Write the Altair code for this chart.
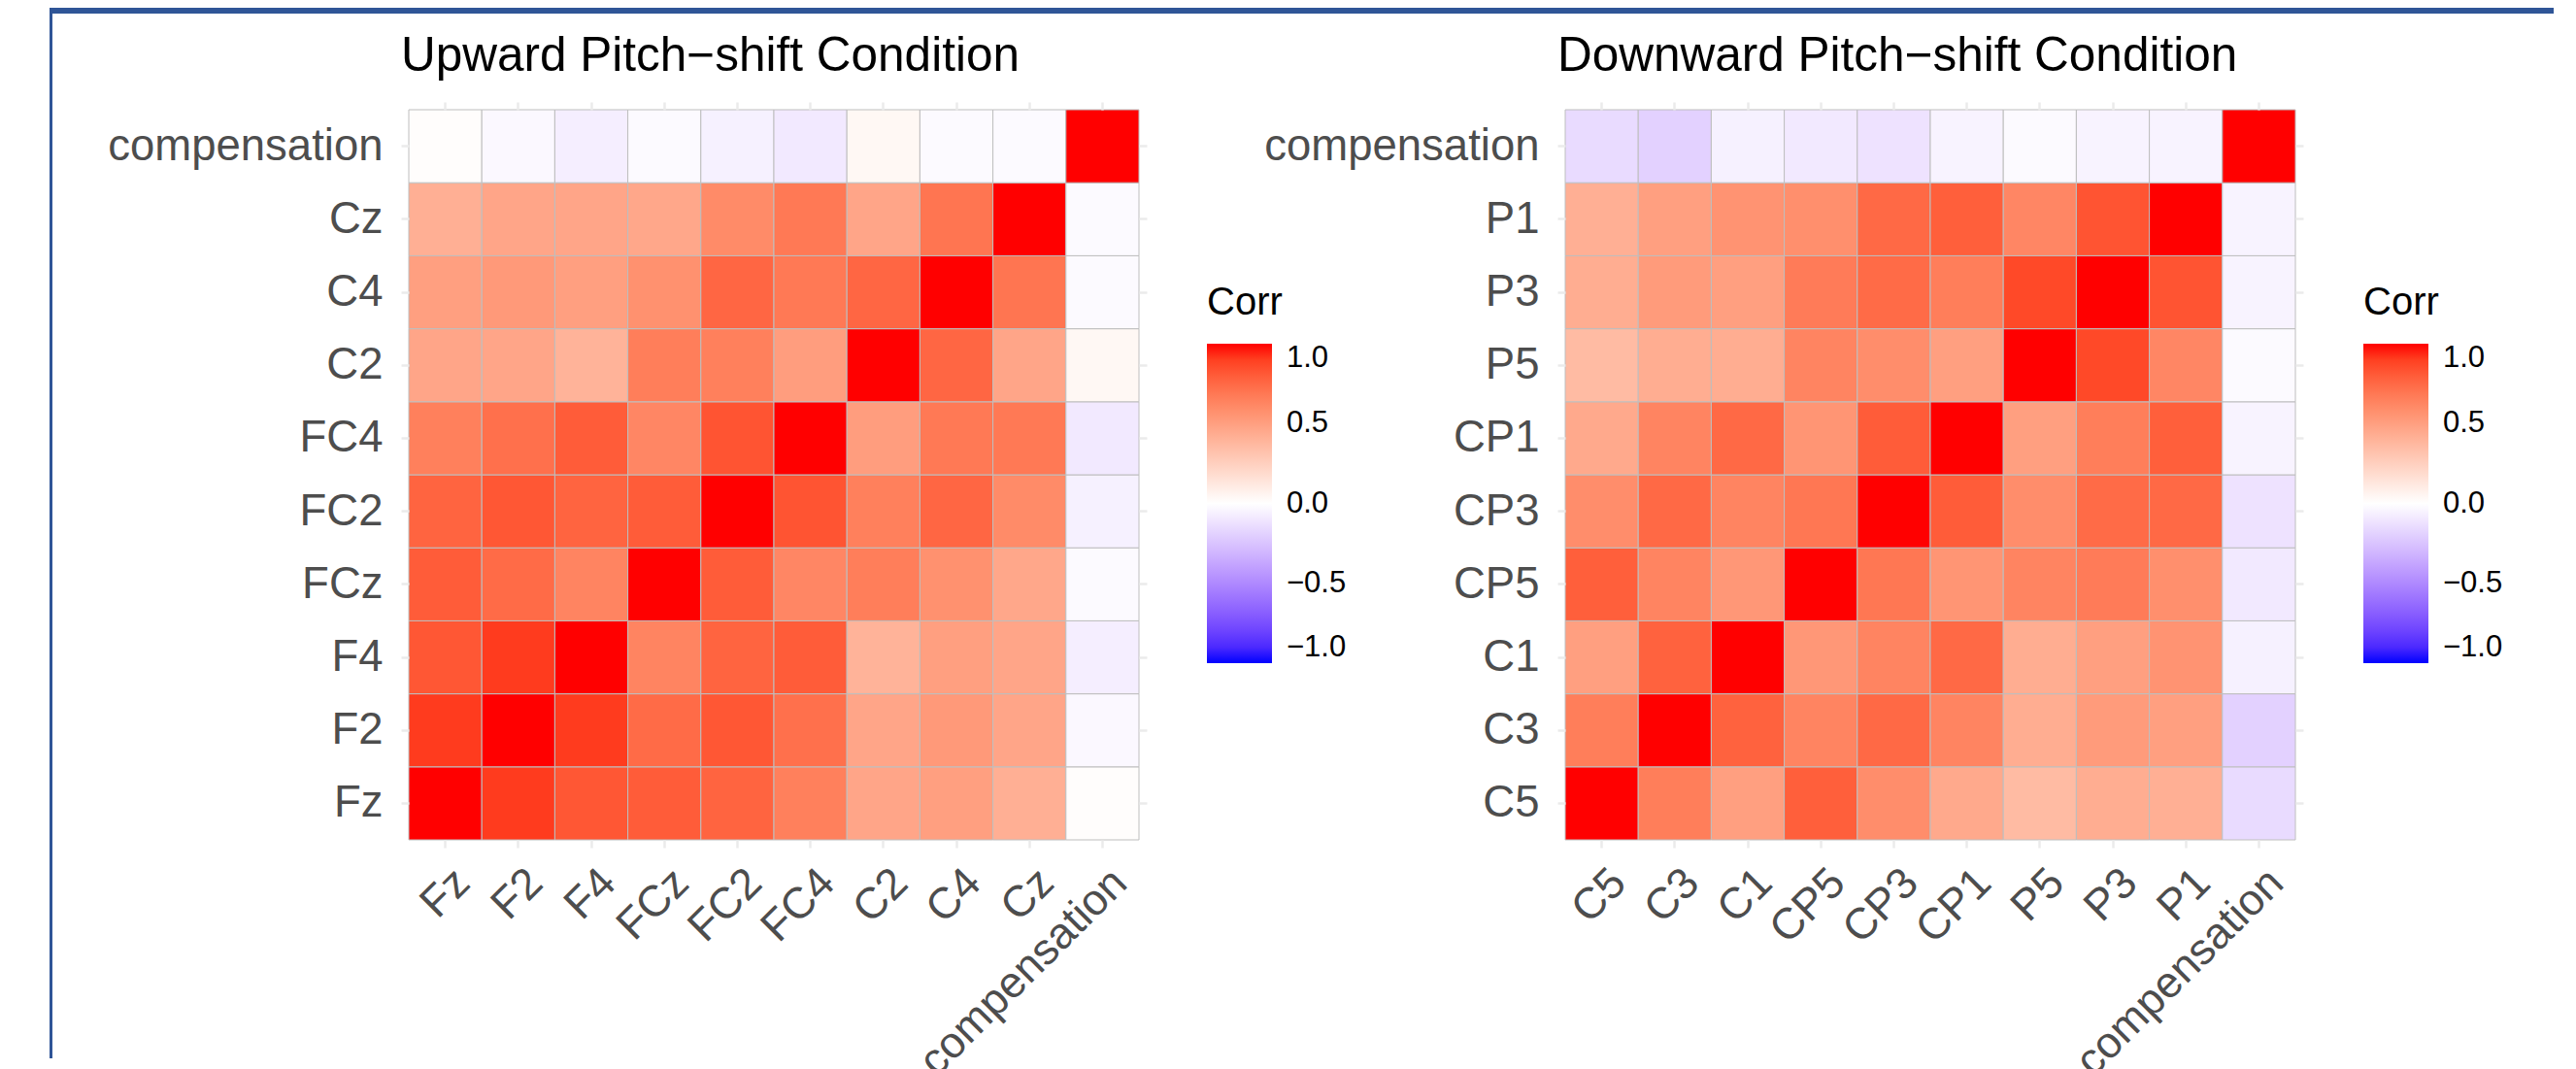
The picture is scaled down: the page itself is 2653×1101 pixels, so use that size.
import altair as alt
import pandas as pd

FONT = "Liberation Sans"

# ---------------- Upward pitch-shift condition ----------------
up_vars = ["Fz", "F2", "F4", "FCz", "FC2", "FC4", "C2", "C4", "Cz", "compensation"]
up_Fz = [1.00, 0.91, 0.82, 0.80, 0.77, 0.65, 0.47, 0.50, 0.42, 0.01]
up_F2 = [0.91, 1.00, 0.91, 0.74, 0.82, 0.72, 0.47, 0.53, 0.47, -0.03]
up_F4 = [0.82, 0.91, 1.00, 0.63, 0.77, 0.80, 0.40, 0.50, 0.47, -0.07]
up_FCz = [0.80, 0.74, 0.63, 1.00, 0.80, 0.62, 0.66, 0.57, 0.46, -0.02]
up_FC2 = [0.77, 0.82, 0.77, 0.80, 1.00, 0.83, 0.65, 0.76, 0.60, -0.06]
up_FC4 = [0.65, 0.72, 0.80, 0.62, 0.83, 1.00, 0.51, 0.68, 0.68, -0.09]
up_C2 = [0.47, 0.47, 0.40, 0.66, 0.65, 0.51, 1.00, 0.76, 0.47, 0.04]
up_C4 = [0.50, 0.53, 0.50, 0.57, 0.76, 0.68, 0.76, 1.00, 0.70, -0.02]
up_Cz = [0.42, 0.47, 0.47, 0.46, 0.60, 0.68, 0.47, 0.70, 1.00, -0.02]
up_comp = [0.01, -0.03, -0.07, -0.02, -0.06, -0.09, 0.04, -0.02, -0.02, 1.00]
up_rows = [up_Fz, up_F2, up_F4, up_FCz, up_FC2, up_FC4, up_C2, up_C4, up_Cz, up_comp]

# ---------------- Downward pitch-shift condition ----------------
down_vars = ["C5", "C3", "C1", "CP5", "CP3", "CP1", "P5", "P3", "P1", "compensation"]
dn_C5 = [1.00, 0.66, 0.50, 0.79, 0.59, 0.45, 0.36, 0.43, 0.42, -0.15]
dn_C3 = [0.66, 1.00, 0.78, 0.63, 0.75, 0.63, 0.43, 0.52, 0.50, -0.19]
dn_C1 = [0.50, 0.78, 1.00, 0.54, 0.63, 0.75, 0.43, 0.50, 0.56, -0.06]
dn_CP5 = [0.79, 0.63, 0.54, 1.00, 0.69, 0.55, 0.63, 0.67, 0.58, -0.09]
dn_CP3 = [0.59, 0.75, 0.63, 0.69, 1.00, 0.80, 0.59, 0.74, 0.75, -0.12]
dn_CP1 = [0.45, 0.63, 0.75, 0.55, 0.80, 1.00, 0.50, 0.66, 0.79, -0.05]
dn_P5 = [0.36, 0.43, 0.43, 0.63, 0.59, 0.50, 1.00, 0.87, 0.62, -0.02]
dn_P3 = [0.43, 0.52, 0.50, 0.67, 0.74, 0.66, 0.87, 1.00, 0.83, -0.05]
dn_P1 = [0.42, 0.50, 0.56, 0.58, 0.75, 0.79, 0.62, 0.83, 1.00, -0.05]
dn_comp = [-0.15, -0.19, -0.06, -0.09, -0.12, -0.05, -0.02, -0.05, -0.05, 1.00]
down_rows = [dn_C5, dn_C3, dn_C1, dn_CP5, dn_CP3, dn_CP1, dn_P5, dn_P3, dn_P1, dn_comp]

legend_values = [-1.0, -0.5, 0.0, 0.5, 1.0]


def long_table(names, rows):
    recs = []
    for i, rname in enumerate(names):
        for j, cname in enumerate(names):
            recs.append({"Var1": cname, "Var2": rname, "value": rows[i][j]})
    return pd.DataFrame(recs)


def panel(names, rows, title, with_frame=False):
    df = long_table(names, rows)
    rev = list(reversed(names))
    band = alt.Scale(paddingInner=0, paddingOuter=0)
    common_axis = dict(domain=False, grid=False, tickColor="#EBEBEB", tickWidth=2.5,
                       tickSize=8, title=None, labelLimit=0)
    base = alt.Chart(df)
    one = pd.DataFrame({"k": [0]})

    stubs = base.mark_rect(opacity=0).encode(
        x=alt.X("Var1:N", sort=names, scale=band,
                axis=alt.Axis(orient="top", labels=False, **common_axis)),
        y=alt.Y("Var2:N", sort=rev, scale=band,
                axis=alt.Axis(orient="right", labels=False, **common_axis)),
    )

    tiles = base.mark_rect(stroke="#BEBEBE", strokeWidth=1).encode(
        x=alt.X("Var1:N", sort=names, scale=band,
                axis=alt.Axis(orient="bottom", labelAngle=-45, labelAlign="right",
                              labelBaseline="top", labelFont=FONT, labelFontSize=45,
                              labelColor="#4D4D4D", labelPadding=13, labelOffset=2,
                              **common_axis)),
        y=alt.Y("Var2:N", sort=rev, scale=band,
                axis=alt.Axis(orient="left", labelFont=FONT, labelFontSize=45.5,
                              labelColor="#4D4D4D", labelPadding=19, **common_axis)),
        color=alt.Color("value:Q",
                        scale=alt.Scale(domain=[-1, 0, 1],
                                        range=["#0000FF", "#FFFFFF", "#FF0000"],
                                        interpolate="lab"),
                        legend=alt.Legend(title="Corr", orient="none", legendX=822,
                                          legendY=179, direction="vertical",
                                          gradientLength=329, gradientThickness=67,
                                          gradientStrokeWidth=0,
                                          values=legend_values, format=".1f",
                                          labelFont=FONT, labelFontSize=31,
                                          labelColor="#000000", labelOffset=15,
                                          titleFont=FONT, titleFontSize=40,
                                          titleFontWeight="normal", titleColor="#000000",
                                          titlePadding=22)),
    )

    title_mark = alt.Chart(one).mark_text(
        text=title, align="left", baseline="alphabetic", font=FONT, fontSize=49.5,
        color="#000000").encode(x=alt.value(-8), y=alt.value(-40))

    layers = [stubs, tiles, title_mark]
    if with_frame:
        side = alt.Chart(one).mark_rect(color="#2F5597").encode(
            x=alt.value(-370), x2=alt.value(-367), y=alt.value(-105), y2=alt.value(977))
        top = alt.Chart(one).mark_rect(color="#2F5597").encode(
            x=alt.value(-370), x2=alt.value(2209), y=alt.value(-105), y2=alt.value(-99))
        layers += [side, top]

    return alt.layer(*layers).resolve_axis(x="independent", y="independent").properties(
        width=752, height=752)


left = panel(up_vars, up_rows, "Upward Pitch\u2212shift Condition", with_frame=True)
right = panel(down_vars, down_rows, "Downward Pitch\u2212shift Condition")

chart = alt.hconcat(left, right, spacing=439, bounds="flush").resolve_scale(
    color="independent").resolve_legend(color="independent").configure_view(
    stroke=None).properties(padding={"left": 43, "top": 0, "right": 0, "bottom": 0},
                            background="white")

chart.save("out.html", embed_options={"renderer": "svg", "actions": False})
